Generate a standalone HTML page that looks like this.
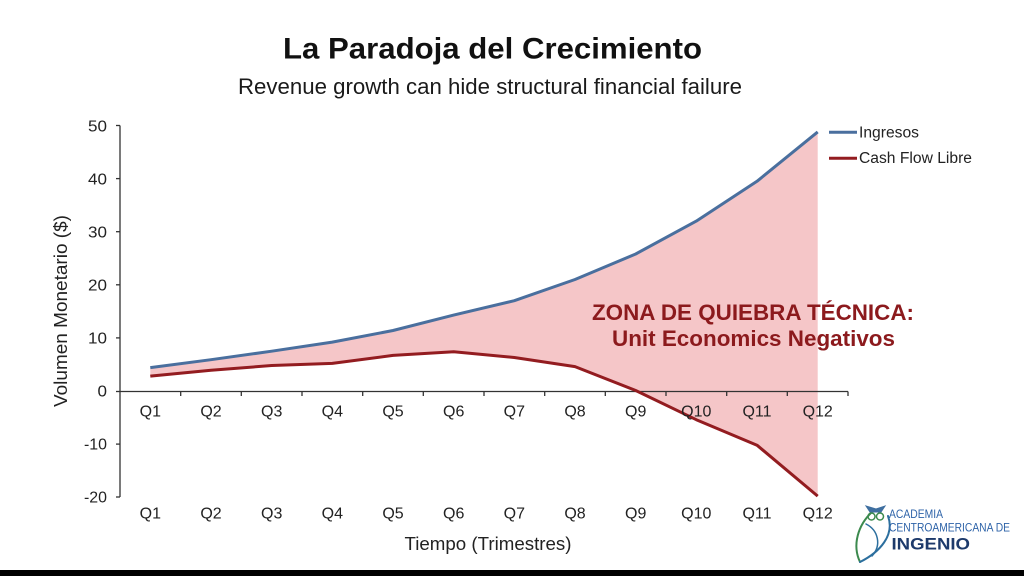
<!DOCTYPE html>
<html><head><meta charset="utf-8"><style>
html,body{margin:0;padding:0;background:#fff;}
svg{display:block;}
text{font-family:"Liberation Sans",Arial,sans-serif;}
</style></head><body>
<svg width="1024" height="576" viewBox="0 0 1024 576" xmlns="http://www.w3.org/2000/svg">
<rect x="0" y="0" width="1024" height="576" fill="#ffffff"/>
<!-- titles -->
<text x="492.5" y="58.5" font-size="30" font-weight="bold" text-anchor="middle" textLength="419" lengthAdjust="spacingAndGlyphs" fill="#111">La Paradoja del Crecimiento</text>
<text x="490" y="94" font-size="22" text-anchor="middle" textLength="504" lengthAdjust="spacingAndGlyphs" fill="#1a1a1a">Revenue growth can hide structural financial failure</text>

<!-- fill area -->
<polygon fill="#f5c6c8" points="150.3,367.6 211.0,359.7 271.7,351.2 332.3,342.1 393.0,330.5 453.7,315.1 514.3,300.7 575.0,279.5 635.7,254.0 696.3,221.1 757.0,181.3 817.7,131.9 817.7,496.1 757.0,445.2 696.3,419.7 635.7,390.5 575.0,366.6 514.3,357.5 453.7,351.7 393.0,355.4 332.3,363.4 271.7,365.5 211.0,370.3 150.3,376.1"/>

<!-- axes -->
<g stroke="#333" stroke-width="1.3" fill="none">
<line x1="120" y1="125.5" x2="120" y2="497"/>
<line x1="120" y1="391.5" x2="848" y2="391.5"/>
<line x1="116" y1="125.5" x2="120" y2="125.5"/>
<line x1="116" y1="178.6" x2="120" y2="178.6"/>
<line x1="116" y1="231.7" x2="120" y2="231.7"/>
<line x1="116" y1="284.8" x2="120" y2="284.8"/>
<line x1="116" y1="337.9" x2="120" y2="337.9"/>
<line x1="116" y1="391.5" x2="120" y2="391.5"/>
<line x1="116" y1="444.1" x2="120" y2="444.1"/>
<line x1="116" y1="497" x2="120" y2="497"/>
<line x1="180.7" y1="391.5" x2="180.7" y2="396"/>
<line x1="241.3" y1="391.5" x2="241.3" y2="396"/>
<line x1="302" y1="391.5" x2="302" y2="396"/>
<line x1="362.7" y1="391.5" x2="362.7" y2="396"/>
<line x1="423.3" y1="391.5" x2="423.3" y2="396"/>
<line x1="484" y1="391.5" x2="484" y2="396"/>
<line x1="544.7" y1="391.5" x2="544.7" y2="396"/>
<line x1="605.3" y1="391.5" x2="605.3" y2="396"/>
<line x1="666" y1="391.5" x2="666" y2="396"/>
<line x1="726.7" y1="391.5" x2="726.7" y2="396"/>
<line x1="787.3" y1="391.5" x2="787.3" y2="396"/>
<line x1="848" y1="391.5" x2="848" y2="396"/>
</g>

<!-- series -->
<polyline fill="none" stroke="#4a6f9e" stroke-width="3" stroke-linejoin="round" points="150.3,367.6 211.0,359.7 271.7,351.2 332.3,342.1 393.0,330.5 453.7,315.1 514.3,300.7 575.0,279.5 635.7,254.0 696.3,221.1 757.0,181.3 817.7,131.9"/>
<polyline fill="none" stroke="#931c20" stroke-width="3" stroke-linejoin="round" points="150.3,376.1 211.0,370.3 271.7,365.5 332.3,363.4 393.0,355.4 453.7,351.7 514.3,357.5 575.0,366.6 635.7,390.5 696.3,419.7 757.0,445.2 817.7,496.1"/>

<!-- y tick labels -->
<g font-size="15.5" fill="#222" text-anchor="end">
<text x="107" y="131.5" textLength="19" lengthAdjust="spacingAndGlyphs">50</text>
<text x="107" y="184.5" textLength="19" lengthAdjust="spacingAndGlyphs">40</text>
<text x="107" y="237.5" textLength="19" lengthAdjust="spacingAndGlyphs">30</text>
<text x="107" y="290.5" textLength="19" lengthAdjust="spacingAndGlyphs">20</text>
<text x="107" y="343.5" textLength="19" lengthAdjust="spacingAndGlyphs">10</text>
<text x="107" y="396.5" textLength="9.5" lengthAdjust="spacingAndGlyphs">0</text>
<text x="107" y="449.5" textLength="23" lengthAdjust="spacingAndGlyphs">-10</text>
<text x="107" y="502.5" textLength="23" lengthAdjust="spacingAndGlyphs">-20</text>
</g>

<!-- y axis title -->
<text transform="translate(67,311) rotate(-90)" font-size="18.5" text-anchor="middle" textLength="192" lengthAdjust="spacingAndGlyphs" fill="#222">Volumen Monetario ($)</text>

<!-- x labels top row -->
<g font-size="16" fill="#222" text-anchor="middle">
<text x="150.3" y="416.5">Q1</text>
<text x="211.0" y="416.5">Q2</text>
<text x="271.7" y="416.5">Q3</text>
<text x="332.3" y="416.5">Q4</text>
<text x="393.0" y="416.5">Q5</text>
<text x="453.7" y="416.5">Q6</text>
<text x="514.3" y="416.5">Q7</text>
<text x="575.0" y="416.5">Q8</text>
<text x="635.7" y="416.5">Q9</text>
<text x="696.3" y="416.5">Q10</text>
<text x="757.0" y="416.5">Q11</text>
<text x="817.7" y="416.5">Q12</text>
</g>
<!-- x labels bottom row -->
<g font-size="16" fill="#222" text-anchor="middle">
<text x="150.3" y="518.5">Q1</text>
<text x="211.0" y="518.5">Q2</text>
<text x="271.7" y="518.5">Q3</text>
<text x="332.3" y="518.5">Q4</text>
<text x="393.0" y="518.5">Q5</text>
<text x="453.7" y="518.5">Q6</text>
<text x="514.3" y="518.5">Q7</text>
<text x="575.0" y="518.5">Q8</text>
<text x="635.7" y="518.5">Q9</text>
<text x="696.3" y="518.5">Q10</text>
<text x="757.0" y="518.5">Q11</text>
<text x="817.7" y="518.5">Q12</text>
</g>
<text x="488" y="550" font-size="18.5" text-anchor="middle" textLength="167" lengthAdjust="spacingAndGlyphs" fill="#222">Tiempo (Trimestres)</text>

<!-- legend -->
<line x1="829" y1="132.3" x2="857" y2="132.3" stroke="#4a6f9e" stroke-width="3"/>
<line x1="829" y1="158.3" x2="857" y2="158.3" stroke="#931c20" stroke-width="3"/>
<text x="859" y="137.5" font-size="15.5" textLength="60" lengthAdjust="spacingAndGlyphs" fill="#222">Ingresos</text>
<text x="859" y="163" font-size="15.5" textLength="113" lengthAdjust="spacingAndGlyphs" fill="#222">Cash Flow Libre</text>

<!-- annotation -->
<text x="753" y="320" font-size="22" font-weight="bold" text-anchor="middle" textLength="322" lengthAdjust="spacingAndGlyphs" fill="#8c1a1d">ZONA DE QUIEBRA TÉCNICA:</text>
<text x="753.5" y="346" font-size="22" font-weight="bold" text-anchor="middle" textLength="283" lengthAdjust="spacingAndGlyphs" fill="#8c1a1d">Unit Economics Negativos</text>

<!-- logo -->
<g fill="none" stroke-linecap="round">
<path d="M872,512 C858,525 852,545 860,562" stroke="#3c8a4e" stroke-width="2"/>
<path d="M860,562 C880,552 895,535 888,516" stroke="#2c6f9e" stroke-width="2"/>
<path d="M866,524 C878,530 882,545 872,556" stroke="#2c6f9e" stroke-width="1.5"/>
<path d="M866,506 L870,512 L881,512 L885,506 L876,509 Z" fill="#3f6fa0" stroke="#3f6fa0" stroke-width="1"/>
<circle cx="871.5" cy="516.5" r="3.5" stroke="#3c8a4e" stroke-width="1.5"/>
<circle cx="880" cy="516.5" r="3.5" stroke="#3c8a4e" stroke-width="1.5"/>
</g>
<text x="889" y="518" font-size="11.5" textLength="54" lengthAdjust="spacingAndGlyphs" fill="#2e63a8">ACADEMIA</text>
<text x="889" y="531.5" font-size="11.5" textLength="121" lengthAdjust="spacingAndGlyphs" fill="#2e63a8">CENTROAMERICANA DE</text>
<text x="891.5" y="549.5" font-size="17" font-weight="bold" textLength="78.5" lengthAdjust="spacingAndGlyphs" fill="#1d3a6b">INGENIO</text>

<!-- bottom black bar -->
<rect x="0" y="570" width="1024" height="6" fill="#000"/>
</svg>
</body></html>
